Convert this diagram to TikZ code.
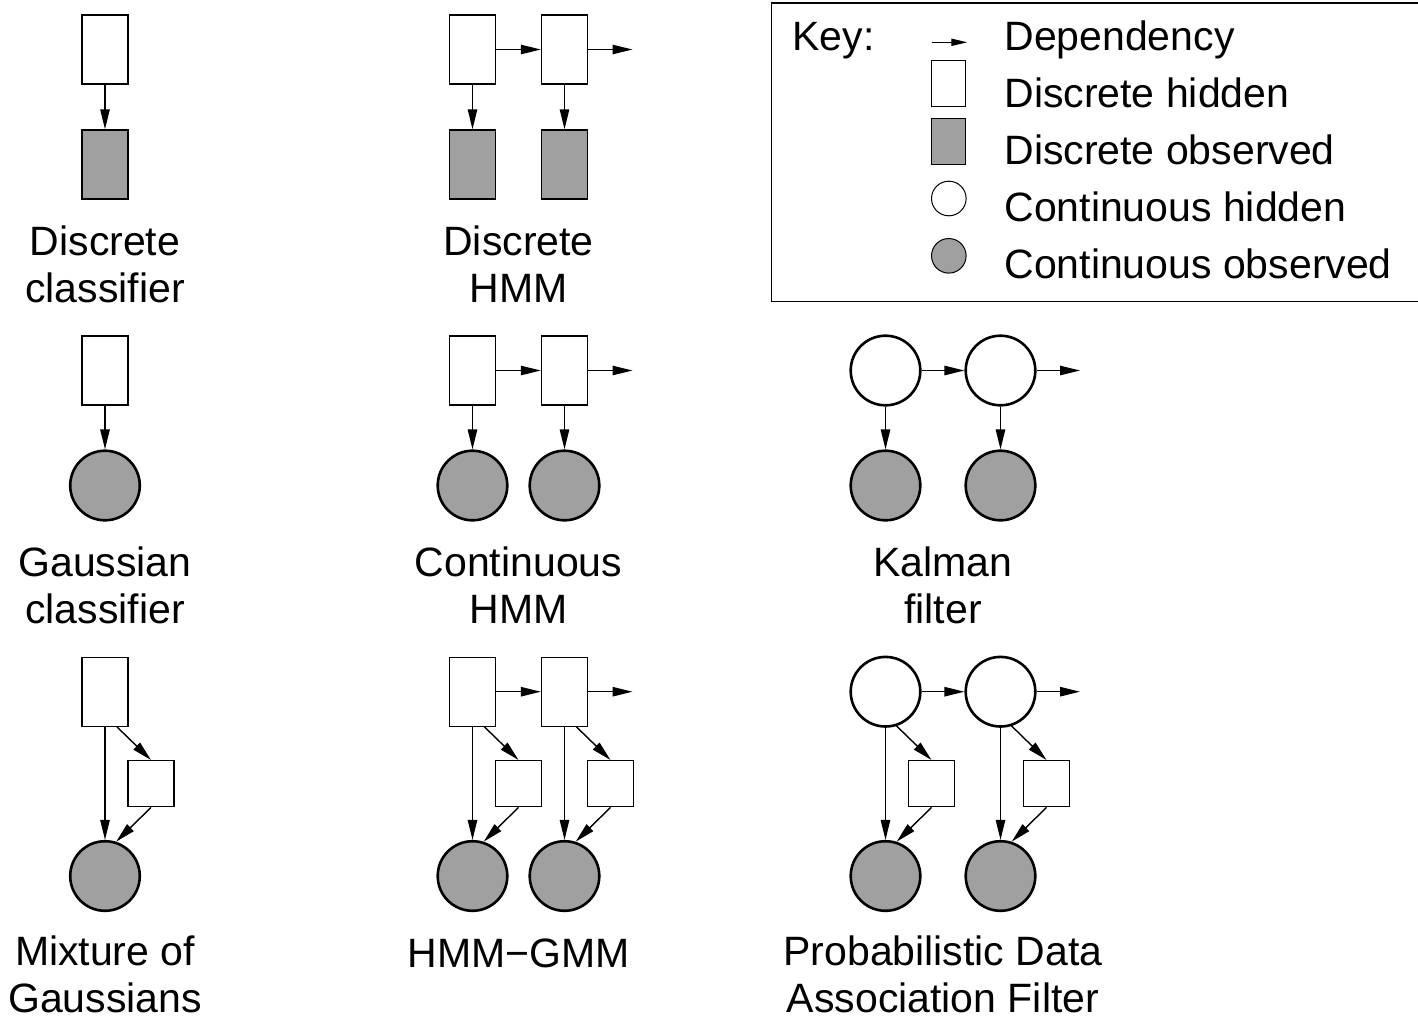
\documentclass[tikz,border=0pt]{standalone}
\usepackage{fontspec}
\setmainfont{Liberation Sans}
\usepackage{xcolor}
\usetikzlibrary{positioning,arrows.meta}

\definecolor{obsgray}{RGB}{160,160,160}

\begin{document}
\begin{tikzpicture}[x=0.5pt, y=-0.5pt,
    font=\fontsize{20.5}{23.3}\selectfont,
    dhid/.style={draw, line width=0.7pt, fill=white, minimum width=23pt, minimum height=34.5pt, inner sep=0pt},
    dobs/.style={dhid, fill=obsgray},
    chid/.style={draw, circle, line width=1.3pt, fill=white, minimum size=34.8pt, inner sep=0pt},
    cobs/.style={chid, fill=obsgray},
    aux/.style={draw, line width=0.7pt, minimum size=23pt, inner sep=0pt},
    dep/.style={-{Triangle[length=10pt,width=4.7pt]}, line width=0.7pt},
    lbl/.style={align=center, anchor=base, inner sep=0pt},
    keytxt/.style={anchor=base west, inner sep=0pt},
    keyshape/.style={draw, line width=0.5pt, inner sep=0pt},
]
    \useasboundingbox (0,0) rectangle (1418,1018);

    % key (labels sit on the base of their last line)
    \draw[line width=0.6pt] (771.5,3) rectangle (1430,301.5);
    \node[keytxt] (key) at (792,50.7) {Key:};
    \coordinate (ka) at (931.7,42.3);
    \coordinate (kb) at (967.3,42.3);
    \draw[-{Triangle[length=8pt,width=3.6pt]}, line width=0.6pt] (ka) -- (kb);
    \node[keyshape, minimum width=17pt, minimum height=23pt] (kdh) at (948.8,83.7) {};
    \node[keyshape, minimum width=17pt, minimum height=23pt, fill=obsgray] (kdo) at (948.8,141.3) {};
    \node[keyshape, circle, minimum size=17.3pt] (kch) at (948.8,198.5) {};
    \node[keyshape, circle, minimum size=17.3pt, fill=obsgray] (kco) at (948.8,255.8) {};
    \node[keytxt] (kt1) at (1004,50.7) {Dependency};
    \node[keytxt] (kt2) at (1004,107.5) {Discrete hidden};
    \node[keytxt] (kt3) at (1004,164.3) {Discrete observed};
    \node[keytxt] (kt4) at (1004,221.3) {Continuous hidden};
    \node[keytxt] (kt5) at (1004,278.3) {Continuous observed};

    % discrete classifier
    \node[dhid] (dc1) at (105,49.5) {};
    \node[dobs] (dc2) at (105,164.5) {};
    \draw[dep] (dc1) -- (dc2);
    \node[lbl] at (105,302.3) {Discrete\\classifier};

    % discrete HMM
    \node[dhid] (dh1) at (472.5,49.5) {};
    \node[dhid] (dh2) at (564.5,49.5) {};
    \node[dobs] (dh1o) at (472.5,164.5) {};
    \node[dobs] (dh2o) at (564.5,164.5) {};
    \coordinate (dhout) at (632.5,49.5);
    \draw[dep] (dh1) -- (dh2);
    \draw[dep] (dh2) -- (dhout);
    \draw[dep] (dh1) -- (dh1o);
    \draw[dep] (dh2) -- (dh2o);
    \node[lbl] at (518.5,302.3) {Discrete\\HMM};

    % gaussian classifier
    \node[dhid] (gc1) at (105,370.5) {};
    \node[cobs] (gc2) at (105,485.5) {};
    \draw[dep] (gc1) -- (gc2);
    \node[lbl] at (105,623.3) {Gaussian\\classifier};

    % continuous HMM
    \node[dhid] (ch1) at (472.5,370.5) {};
    \node[dhid] (ch2) at (564.5,370.5) {};
    \node[cobs] (ch1o) at (472.5,485.5) {};
    \node[cobs] (ch2o) at (564.5,485.5) {};
    \coordinate (chout) at (632.5,370.5);
    \draw[dep] (ch1) -- (ch2);
    \draw[dep] (ch2) -- (chout);
    \draw[dep] (ch1) -- (ch1o);
    \draw[dep] (ch2) -- (ch2o);
    \node[lbl] at (518.5,623.3) {Continuous\\HMM};

    % kalman filter
    \node[chid] (kf1) at (885.5,370.5) {};
    \node[chid] (kf2) at (1000.5,370.5) {};
    \node[cobs] (kf1o) at (885.5,485.5) {};
    \node[cobs] (kf2o) at (1000.5,485.5) {};
    \coordinate (kfout) at (1080,370.5);
    \draw[dep] (kf1) -- (kf2);
    \draw[dep] (kf2) -- (kfout);
    \draw[dep] (kf1) -- (kf1o);
    \draw[dep] (kf2) -- (kf2o);
    \node[lbl] at (943,623.3) {Kalman\\filter};

    % mixture of gaussians
    \node[dhid] (mg1) at (105,691.7) {};
    \node[aux] (mgs) at (151,783.7) {};
    \node[cobs] (mg2) at (105,876) {};
    \draw[dep] (mg1) -- (mg2);
    \draw[dep] ([xshift=6pt]mg1.south) -- (mgs.north);
    \draw[dep] (mgs.south) -- (mg2.72);
    \node[lbl] at (105,1012) {Mixture of\\Gaussians};

    % HMM-GMM
    \node[dhid] (hg1) at (472.5,691.7) {};
    \node[dhid] (hg2) at (564.5,691.7) {};
    \node[aux] (hg1s) at (518.5,783.7) {};
    \node[aux] (hg2s) at (610.5,783.7) {};
    \node[cobs] (hg1o) at (472.5,876) {};
    \node[cobs] (hg2o) at (564.5,876) {};
    \coordinate (hgout) at (632.5,691.7);
    \draw[dep] (hg1) -- (hg2);
    \draw[dep] (hg2) -- (hgout);
    \draw[dep] (hg1) -- (hg1o);
    \draw[dep] (hg2) -- (hg2o);
    \draw[dep] ([xshift=6pt]hg1.south) -- (hg1s.north);
    \draw[dep] ([xshift=6pt]hg2.south) -- (hg2s.north);
    \draw[dep] (hg1s.south) -- (hg1o.72);
    \draw[dep] (hg2s.south) -- (hg2o.72);
    \node[lbl] at (518.5,967) {HMM−GMM};

    % PDAF
    \node[chid] (pd1) at (885.5,691.7) {};
    \node[chid] (pd2) at (1000.5,691.7) {};
    \node[aux] (pd1s) at (931.5,783.7) {};
    \node[aux] (pd2s) at (1046.5,783.7) {};
    \node[cobs] (pd1o) at (885.5,876) {};
    \node[cobs] (pd2o) at (1000.5,876) {};
    \coordinate (pdout) at (1080,691.7);
    \draw[dep] (pd1) -- (pd2);
    \draw[dep] (pd2) -- (pdout);
    \draw[dep] (pd1) -- (pd1o);
    \draw[dep] (pd2) -- (pd2o);
    \draw[dep] (pd1.-72) -- (pd1s.north);
    \draw[dep] (pd2.-72) -- (pd2s.north);
    \draw[dep] (pd1s.south) -- (pd1o.72);
    \draw[dep] (pd2s.south) -- (pd2o.72);
    \node[lbl] at (943,1012) {Probabilistic Data\\Association Filter};
\end{tikzpicture}
\end{document}
